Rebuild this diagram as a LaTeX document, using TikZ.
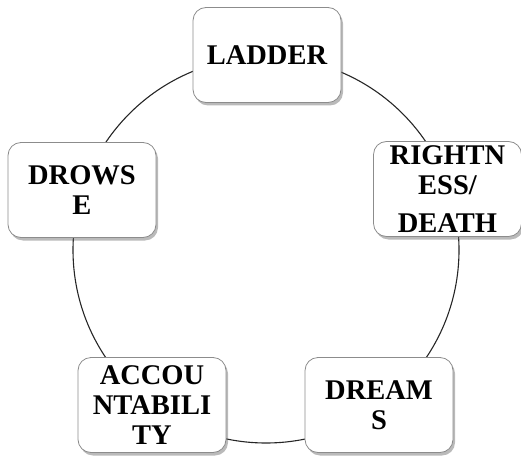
\documentclass[tikz,border=0pt]{standalone}
\usepackage{fontspec}
\setmainfont{Liberation Serif}
\usetikzlibrary{shadows}
\begin{document}
\begin{tikzpicture}[x=1pt,y=-1pt,
  stagebox/.style={draw=black!45, line width=0.8pt, fill=white, rounded corners=13pt,
    minimum width=148pt, minimum height=95pt, inner sep=0pt, align=center,
    font=\fontsize{28.5}{30}\selectfont\bfseries,
    drop shadow={shadow xshift=2pt, shadow yshift=-3pt, opacity=0.45, fill=black!60}},
  ring/.style={draw=black!85, line width=1.1pt}]
\useasboundingbox (0,0) rectangle (521,457);
\coordinate (c) at (266,250);
\draw[ring] (c) circle (193pt);
\node[stagebox] (ladder) at (267,55) {LADDER};
\node[stagebox] (right) at (447.5,189) {RIGHTN\\ESS/\\[8pt]DEATH};
\node[stagebox] (drowse) at (82,190) {DROWS\\E};
\node[stagebox] (acc) at (152,405) {ACCOU\\NTABILI\\TY};
\node[stagebox] (dreams) at (379,405) {DREAM\\S};
\end{tikzpicture}
\end{document}
